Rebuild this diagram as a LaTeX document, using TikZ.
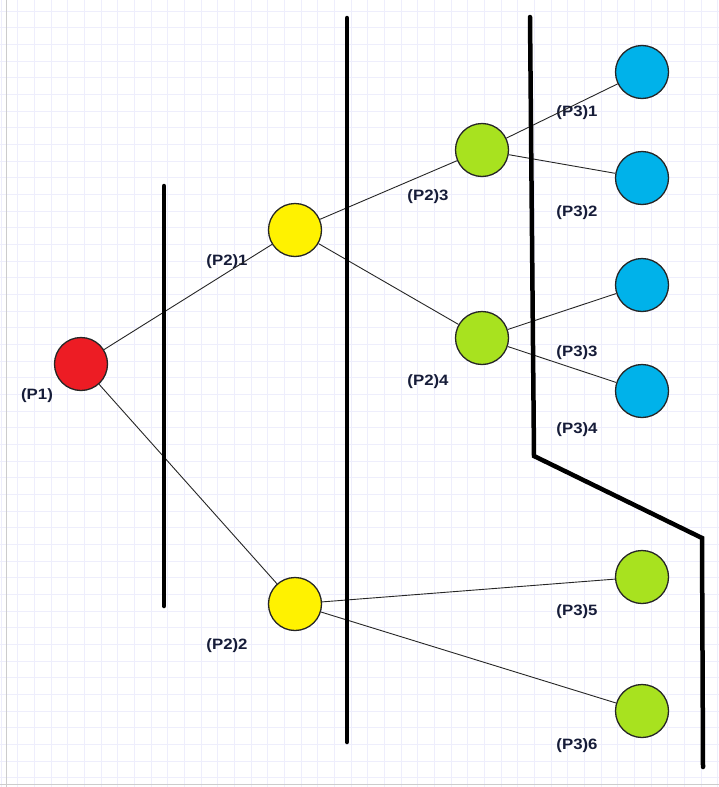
\documentclass[tikz,border=0pt]{standalone}
\usepackage{fontspec}
\newfontfamily\labelfont[FakeStretch=1.12]{Liberation Sans}
\definecolor{gridc}{HTML}{EEEEFC}
\definecolor{edgec}{HTML}{262626}
\definecolor{redc}{HTML}{ED1C24}
\definecolor{yelc}{HTML}{FFF200}
\definecolor{grnc}{HTML}{A8E21F}
\definecolor{bluc}{HTML}{00B2EA}
\definecolor{txtc}{HTML}{161C38}
\tikzset{
  state/.style={circle, draw=edgec, line width=1.3pt, minimum size=53pt, inner sep=0pt},
  lbl/.style={font=\labelfont\bfseries\fontsize{15}{17}\selectfont, text=txtc, inner sep=0pt},
  link/.style={draw=edgec, line width=0.9pt},
  cut/.style={draw=black, line width=4.5pt, line cap=round, line join=miter},
}
\begin{document}
\begin{tikzpicture}[x=1pt,y=-1pt]
\useasboundingbox (0,0) rectangle (719,787);
\fill[white] (0,0) rectangle (719,787);
% squared paper
\foreach \i in {0,...,43} {
  \draw[gridc, line width=0.9pt] ({1+16.67*\i},0) -- ({1+16.67*\i},787);
}
\foreach \j in {0,...,47} {
  \draw[gridc, line width=0.9pt] (0,{11+16.67*\j}) -- (719,{11+16.67*\j});
}
\draw[black!20, line width=0.9pt] (6,0) -- (6,787);
\draw[black!20, line width=0.9pt] (0,784) -- (719,784);

% positions
\node[state, fill=redc] (p1) at (81,364) {};
\node[state, fill=yelc] (p21) at (295,230) {};
\node[state, fill=yelc] (p22) at (295,604) {};
\node[state, fill=grnc] (p23) at (482,150) {};
\node[state, fill=grnc] (p24) at (482,338) {};
\node[state, fill=bluc] (p31) at (642,72) {};
\node[state, fill=bluc] (p32) at (642,178) {};
\node[state, fill=bluc] (p33) at (642,285) {};
\node[state, fill=bluc] (p34) at (642,391) {};
\node[state, fill=grnc] (p35) at (642,577) {};
\node[state, fill=grnc] (p36) at (642,711) {};

% labels
\node[lbl] (l1) at (37,396) {(P1)};
\node[lbl] (l21) at (227,262) {(P2)1};
\node[lbl] (l22) at (227,646) {(P2)2};
\node[lbl] (l23) at (428,197) {(P2)3};
\node[lbl] (l24) at (428,382) {(P2)4};
\node[lbl] (l31) at (577,113) {(P3)1};
\node[lbl] (l32) at (577,213) {(P3)2};
\node[lbl] (l33) at (577,353) {(P3)3};
\node[lbl] (l34) at (577,430) {(P3)4};
\node[lbl] (l35) at (577,612) {(P3)5};
\node[lbl] (l36) at (577,746) {(P3)6};

% tree edges
\draw[link] (p1) -- (p21);
\draw[link] (p1) -- (p22);
\draw[link] (p21) -- (p23);
\draw[link] (p21) -- (p24);
\draw[link] (p22) -- (p35);
\draw[link] (p22) -- (p36);
\draw[link] (p23) -- (p31);
\draw[link] (p23) -- (p32);
\draw[link] (p24) -- (p33);
\draw[link] (p24) -- (p34);

% stage cuts
\coordinate (a1) at (164,186);
\coordinate (a2) at (164,606);
\coordinate (b1) at (347,18);
\coordinate (b2) at (347,742);
\coordinate (c1) at (530,17);
\coordinate (c2) at (534,456);
\coordinate (c3) at (702,538);
\coordinate (c4) at (703,767);
\draw[cut] (a1) -- (a2);
\draw[cut] (b1) -- (b2);
\draw[cut] (c1) -- (c2) -- (c3) -- (c4);
\end{tikzpicture}
\end{document}
